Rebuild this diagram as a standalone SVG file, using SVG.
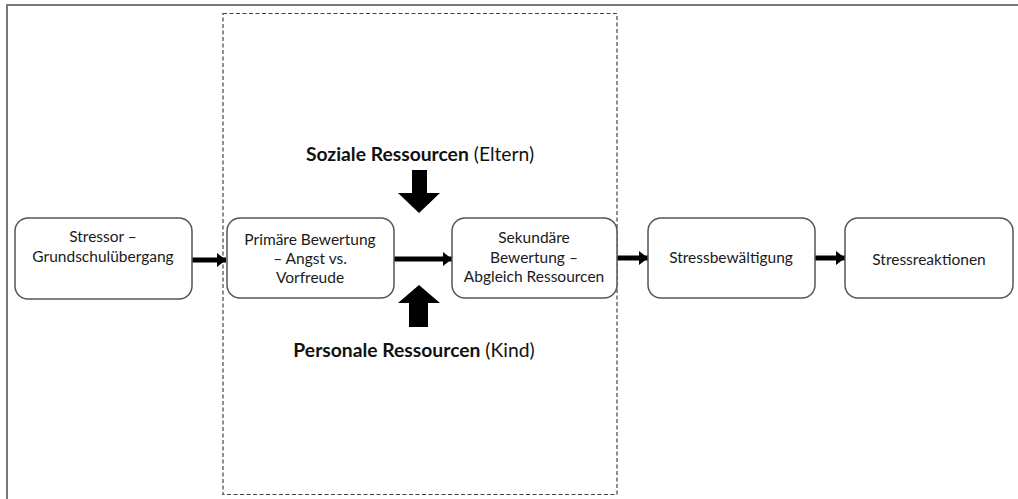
<svg xmlns="http://www.w3.org/2000/svg" width="1018" height="499" viewBox="0 0 1018 499">
<style>
.node rect{fill:#fff;stroke:#555;stroke-width:1.5}
.node text{font-family:Lato,"Liberation Sans",sans-serif;font-size:15.5px;fill:#1a1a1a;text-anchor:middle}
.lbl{font-family:Lato,"Liberation Sans",sans-serif;font-size:19.3px;fill:#111;text-anchor:middle}
.con{stroke:#000;stroke-width:5;fill:none;marker-end:url(#ah)}
</style>
<defs>
<marker id="ah" markerUnits="userSpaceOnUse" markerWidth="10" markerHeight="14" refX="9" refY="7" orient="auto">
<path d="M0,0 L9,7 L0,14 Z" fill="#000"/>
</marker>
</defs>
<rect width="1018" height="499" fill="#fff"/>
<path d="M7,499 V5 H1018" fill="none" stroke="#777" stroke-width="2"/>
<rect x="223" y="13.5" width="394" height="481" fill="none" stroke="#444" stroke-width="1.2" stroke-dasharray="4 2.5"/>
<g id="connectors">
<path class="con" d="M192,260 H226"/>
<path class="con" d="M394,259 H452"/>
<path class="con" d="M617,258 H648"/>
<path class="con" d="M815,258 H845"/>
<path id="arrow-down" d="M412,170 H427 V193 H440 L419,213 L398,193 H412 Z" fill="#000"/>
<path id="arrow-up" d="M409,327 H428 V303 H440 L419,285 L398,303 H409 Z" fill="#000"/>
</g>
<g id="n1" class="node"><rect x="15" y="218" width="177" height="81" rx="13"/>
<text x="103" y="242">Stressor –</text><text x="103" y="262">Grundschulübergang</text></g>
<g id="n2" class="node"><rect x="227" y="218" width="167" height="80" rx="13"/>
<text x="310" y="245">Primäre Bewertung</text><text x="310" y="264">– Angst vs.</text><text x="310" y="283">Vorfreude</text></g>
<g id="n3" class="node"><rect x="452" y="218" width="165" height="80" rx="13"/>
<text x="534" y="243">Sekundäre</text><text x="534" y="263">Bewertung –</text><text x="534" y="282">Abgleich Ressourcen</text></g>
<g id="n4" class="node"><rect x="648" y="218" width="167" height="80" rx="13"/>
<text x="731" y="263">Stressbewältigung</text></g>
<g id="n5" class="node"><rect x="845" y="218" width="168" height="80" rx="13"/>
<text x="929" y="265">Stressreaktionen</text></g>
<g id="soziale"><text class="lbl" x="420" y="161"><tspan font-weight="bold">Soziale Ressourcen</tspan> (Eltern)</text></g>
<g id="personale"><text class="lbl" x="414" y="357"><tspan font-weight="bold">Personale Ressourcen</tspan> (Kind)</text></g>
</svg>
